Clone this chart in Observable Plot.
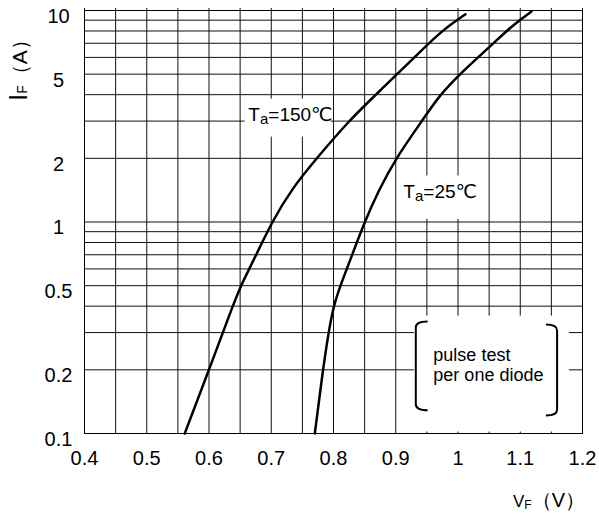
<!DOCTYPE html>
<html><head><meta charset="utf-8">
<script src="https://cdn.jsdelivr.net/npm/d3@7"></script>
<script src="https://cdn.jsdelivr.net/npm/@observablehq/plot@0.6"></script>
<style>body{margin:0;background:#fff;} #chart{width:599px;height:515px;}</style>
</head><body><div id="chart"></div>
<script>
// Forward characteristic, Ta = 150 °C
const vf150 = [0.561, 0.600, 0.638, 0.651, 0.676, 0.701, 0.734, 0.773, 0.824, 0.877, 0.930, 0.973, 1.012];
const if150 = [0.1, 0.2, 0.4, 0.5, 0.7, 1.0, 1.45, 2.0, 3.0, 4.24, 6, 8, 9.6];
// Forward characteristic, Ta = 25 °C
const vf25 = [0.770, 0.783, 0.792, 0.800, 0.811, 0.830, 0.850, 0.872, 0.900, 0.942, 0.971, 1.003, 1.032, 1.057, 1.078, 1.099, 1.118];
const if25 = [0.1, 0.2, 0.3, 0.4, 0.5, 0.7, 1.0, 1.4, 2.0, 3.0, 4.0, 5.0, 6.0, 7, 8, 9, 9.9];

const xTicks = [0.4, 0.5, 0.6, 0.7, 0.8, 0.9, 1, 1.1, 1.2];
const xGrid = [0.4, 0.45, 0.5, 0.55, 0.6, 0.65, 0.7, 0.75, 0.8, 0.85, 0.9, 0.95, 1, 1.05, 1.1, 1.15, 1.2];
const yTicks = [0.1, 0.2, 0.5, 1, 2, 5, 10];
const yGrid = [0.1, 0.2, 0.3, 0.4, 0.5, 0.6, 0.7, 0.8, 0.9, 1, 2, 3, 4, 5, 6, 7, 8, 9, 10];

// curve labels
const labelMain = ["T", "T"];
const labelSub = ["a", "a"];
const labelRest = ["=150℃", "=25℃"];
const labelV = [0.664, 0.913];
const labelI = [3.0, 1.285];

// white backgrounds behind annotations
const boxX1 = [0.658, 0.904, 0.930];
const boxX2 = [0.796, 1.025, 1.179];
const boxY1 = [2.52, 1.03, 0.1016];
const boxY2 = [3.81, 1.65, 0.359];

// note
const noteLines = ["pulse test", "per one diode"];
const noteV = [0.9604, 0.9604];
const noteI = [0.220, 0.177];

// brackets round the note
const bracketV = [0.933, 1.160];
const bracketHookV = [0.952, 1.142];
const bracketTop = [0.337, 0.326];
const bracketBottom = [0.128, 0.121];

const FONT = "'Liberation Sans', Arial, 'DejaVu Sans', sans-serif";

const d150 = vf150.map((v, k) => ({v, i: if150[k]}));
const d25 = vf25.map((v, k) => ({v, i: if25[k]}));
const boxes = boxX1.map((x1, k) => ({x1, x2: boxX2[k], y1: boxY1[k], y2: boxY2[k]}));
const notes = noteLines.map((t, k) => ({t, v: noteV[k], i: noteI[k]}));

const plot = Plot.plot({
  width: 599,
  height: 515,
  marginLeft: 84,
  marginRight: 17,
  marginTop: 10,
  marginBottom: 82,
  style: {fontFamily: FONT, color: "#000", background: "#fff"},
  x: {domain: [0.4, 1.2]},
  y: {type: "log", domain: [0.1, 10]},
  marks: [
    Plot.ruleY(yGrid, {stroke: "#111", strokeWidth: 1}),
    Plot.ruleX(xGrid, {stroke: "#111", strokeWidth: 1, insetTop: -2}),
    Plot.rect(boxes, {x1: "x1", x2: "x2", y1: "y1", y2: "y2", fill: "#fff"}),
    Plot.frame({stroke: "#000"}),
    Plot.line(d150, {x: "v", y: "i", curve: "basis", stroke: "#000", strokeWidth: 2.5}),
    Plot.line(d25, {x: "v", y: "i", curve: "basis", stroke: "#000", strokeWidth: 2.5}),
    Plot.text(notes, {x: "v", y: "i", text: "t", textAnchor: "start", lineAnchor: "bottom", fontSize: 18, fill: "#000"}),
    Plot.axisY(yTicks, {tickSize: 0, tickPadding: 26, textAnchor: "middle", dy: 6, fontSize: 20, label: null, tickFormat: d => String(d)}),
    Plot.axisX(xTicks, {tickSize: 0, tickPadding: 17, fontSize: 20, label: null, tickFormat: d => String(d)})
  ]
});

const sx = plot.scale("x"), sy = plot.scale("y");
const svg = d3.select(plot);

// curve labels with subscripts
const lg = svg.append("g").attr("font-family", FONT).attr("font-size", 19).attr("fill", "#000").attr("text-anchor", "start");
labelMain.forEach((m, k) => {
  const t = lg.append("text").attr("x", sx.apply(labelV[k])).attr("y", sy.apply(labelI[k]));
  t.append("tspan").text(m);
  t.append("tspan").attr("font-size", 15).attr("dy", 3).text(labelSub[k]);
  t.append("tspan").attr("dy", -3).text(labelRest[k]);
});

// brackets
const r = 6;
bracketV.forEach((bv, k) => {
  const x = sx.apply(bv), hx = sx.apply(bracketHookV[k]);
  const t = sy.apply(bracketTop[k]), b = sy.apply(bracketBottom[k]);
  svg.append("path")
    .attr("d", `M${hx},${t} Q${x},${t} ${x},${t + r} L${x},${b - r} Q${x},${b} ${hx},${b}`)
    .attr("fill", "none").attr("stroke", "#000").attr("stroke-width", 2);
});

// y axis title
const yt = svg.append("text").attr("transform", "translate(27,101) rotate(-90)")
  .attr("font-family", FONT).attr("fill", "#000").attr("text-anchor", "start");
yt.append("tspan").attr("font-size", 26).text("I");
yt.append("tspan").attr("font-size", 14).text("F");
yt.append("tspan").attr("font-size", 21).text("（A）");

// x axis title
const xt = svg.append("text").attr("x", 513).attr("y", 507)
  .attr("font-family", FONT).attr("fill", "#000").attr("text-anchor", "start");
xt.append("tspan").attr("font-size", 17).text("V");
xt.append("tspan").attr("font-size", 12).attr("dy", 2).text("F");
xt.append("tspan").attr("font-size", 20).attr("dy", -2).text("（V）");

document.getElementById("chart").appendChild(plot);
</script>
</body></html>
